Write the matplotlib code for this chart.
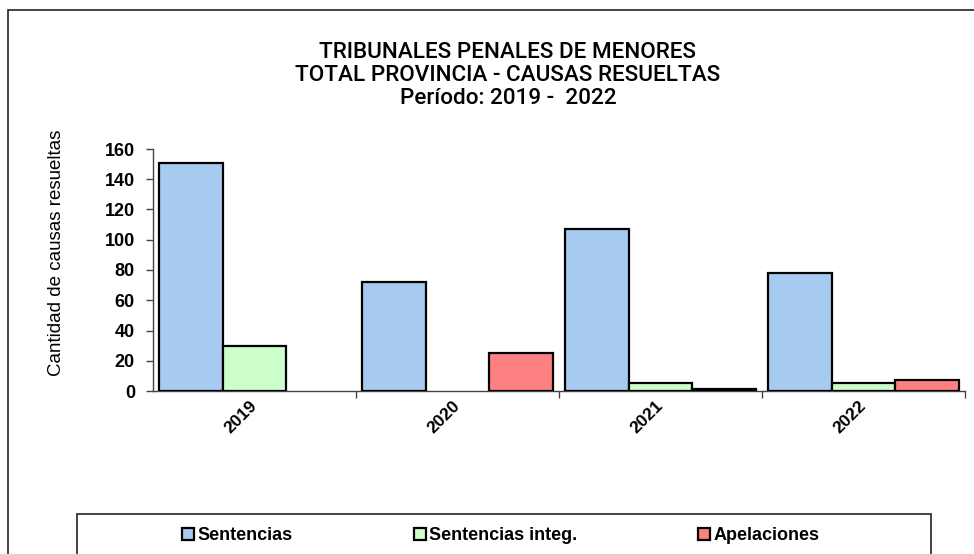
import numpy as np
import matplotlib
matplotlib.use("Agg")
import matplotlib.pyplot as plt
import matplotlib.transforms as mtransforms
from matplotlib.patches import Rectangle

# data
years = ["2019", "2020", "2021", "2022"]
sentencias = [151, 72, 107, 78]
sentencias_integ = [30, 0, 5, 5]
apelaciones = [0, 25, 1, 7]
series_names = ["Sentencias", "Sentencias integ.", "Apelaciones"]
series_colors = ["#A6CAF0", "#CCFFCC", "#FF8080"]
title_lines = ["TRIBUNALES PENALES DE MENORES",
               "TOTAL PROVINCIA - CAUSAS RESUELTAS",
               "Período: 2019 -  2022"]
ylabel = "Cantidad de causas resueltas"

W, H = 974, 554
fig = plt.figure(figsize=(W / 100, H / 100), dpi=100)
fig.patch.set_facecolor("white")

def fx(px):
    return px / W

def fy(py):
    return 1 - py / H

# outer border and legend frame (both run past the image edge)
fig.patches.append(Rectangle((fx(8), fy(600)), fx(1000), fy(10) - fy(600),
                             transform=fig.transFigure, fill=False,
                             edgecolor="#222222", lw=1.2))
fig.patches.append(Rectangle((fx(77), fy(600)), fx(931 - 77), fy(514) - fy(600),
                             transform=fig.transFigure, fill=False,
                             edgecolor="#222222", lw=1.2))

ax = fig.add_axes([fx(153), fy(391), fx(965 - 153), fy(149) - fy(391)])
ax.set_facecolor("white")

x = np.arange(len(years))
w = 0.313
handles = []
for i, (vals, name, col) in enumerate(zip([sentencias, sentencias_integ, apelaciones],
                                          series_names, series_colors)):
    bars = ax.bar(x + (i - 1) * w, vals, width=w, color=col, edgecolor="black",
                  linewidth=1.6, label=name, zorder=3)
    for b, v in zip(bars, vals):
        if v == 0:
            b.set_linewidth(0)
    handles.append(bars)

ax.set_xlim(-0.5, len(years) - 0.5)
ax.set_ylim(0, 160)
ax.set_yticks(np.arange(0, 161, 20))
for s in ["top", "right"]:
    ax.spines[s].set_visible(False)
for s in ["left", "bottom"]:
    ax.spines[s].set_color("#444444")
    ax.spines[s].set_linewidth(1.0)

ax.tick_params(axis="y", direction="out", length=5, width=1, color="#444444",
               pad=8)
for lab in ax.get_yticklabels():
    lab.set_fontfamily("Liberation Sans")
    lab.set_fontweight("bold")
    lab.set_fontsize(13)

ax.set_xticks(x)
ax.set_xticklabels(years, rotation=45, ha="right", fontfamily="Liberation Sans",
                   fontweight="bold", fontsize=12.5)
ax.tick_params(axis="x", which="major", length=0, pad=5)
shift = mtransforms.ScaledTranslation(5 / 100, 0, fig.dpi_scale_trans)
for lab in ax.get_xticklabels():
    lab.set_transform(lab.get_transform() + shift)
ax.set_xticks(np.arange(0.5, len(years), 1.0), minor=True)
ax.tick_params(axis="x", which="minor", direction="out", length=5, width=1,
               color="#444444")

# titles
for ty, line in zip([58.5, 81, 104.5], title_lines):
    fig.text(fx(508), fy(ty), line, ha="center", va="baseline",
             fontfamily="Roboto", fontweight="medium", fontsize=16.2,
             color="black")

fig.text(fx(57), fy(253), ylabel, rotation=90, ha="center", va="center",
         fontfamily="Liberation Sans", fontsize=13.5)

leg = fig.legend(handles=handles, labels=series_names, loc="center",
                 bbox_to_anchor=(fx(501), fy(536)), ncol=3, frameon=False,
                 handlelength=0.65, handleheight=0.65, handletextpad=0.2,
                 columnspacing=6.7,
                 prop={"family": "Liberation Sans", "weight": "bold", "size": 13})
for h in leg.legend_handles:
    h.set_edgecolor("black")
    h.set_linewidth(1.6)

fig.savefig("out.png", dpi=100, facecolor="white")
